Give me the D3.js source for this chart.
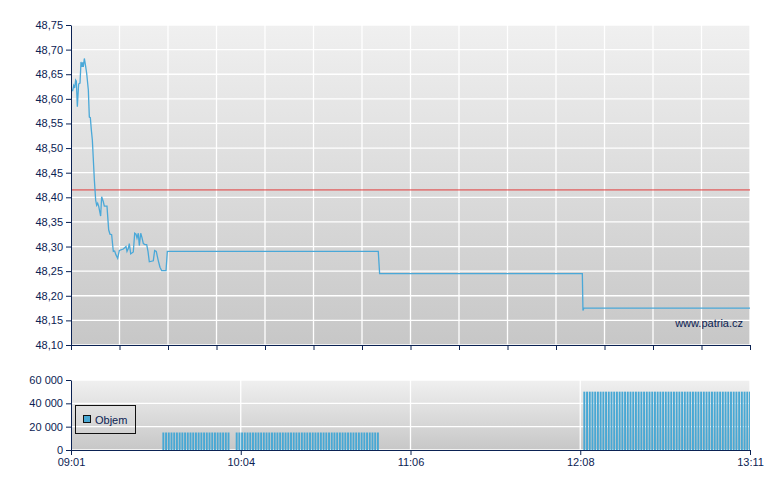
<!DOCTYPE html>
<html><head><meta charset="utf-8">
<script src="https://cdn.jsdelivr.net/npm/d3@7"></script>
<style>
body{margin:0;background:#fff;}
svg{display:block;font-family:"Liberation Sans",Arial,sans-serif;}
.axis text{font-size:11px;fill:#0b2253;}
.axis path,.axis line{stroke:#0b2253;}
</style></head>
<body><svg id="c" width="780" height="490"></svg>
<script>
// ---- data ----
const priceTimes = ["09:01:00","09:01:37","09:02:00","09:02:21","09:02:43","09:02:58","09:03:20","09:03:49","09:04:19","09:04:41","09:05:03","09:05:18","09:05:32","09:05:55","09:06:17","09:06:46","09:07:23","09:07:45","09:08:07","09:08:29","09:08:52",
"09:09:36","09:10:05","09:10:27","09:10:49","09:11:11","09:11:55","09:12:17","09:12:54","09:13:16","09:14:15","09:14:52","09:15:21","09:15:58","09:16:35","09:17:04","09:17:34","09:18:11","09:18:48","09:20:16","09:21:15","09:21:37","09:22:06","09:22:28","09:22:59","09:23:56","09:24:27","09:24:56","09:25:18","09:25:47","09:26:09","09:26:40","09:27:08","09:27:38","09:28:15","09:28:52","09:29:21","09:29:50","09:31:18","09:31:48","09:32:24","09:33:09","09:33:46","09:34:23","09:35:59","09:36:28",
"10:54:08","10:54:38","12:09:16","12:09:30","12:09:53","13:11:00"];
const priceValues = [48.617,48.617,48.627,48.622,48.638,48.636,48.584,48.630,48.632,48.675,48.665,48.674,48.665,48.682,48.670,48.652,48.618,48.563,48.562,48.537,48.516,
48.435,48.394,48.384,48.388,48.382,48.362,48.401,48.391,48.382,48.382,48.334,48.325,48.324,48.290,48.291,48.283,48.276,48.292,48.295,48.300,48.290,48.296,48.306,48.285,48.289,48.327,48.325,48.317,48.327,48.302,48.327,48.318,48.306,48.304,48.304,48.290,48.269,48.271,48.292,48.290,48.271,48.258,48.251,48.251,48.290,
48.290,48.245,48.245,48.170,48.175,48.175];
const referencePrice = 48.415;

const volTimes = ["09:35","09:36","09:37","09:38","09:39","09:40","09:41","09:42","09:43","09:44","09:45","09:46","09:47","09:48","09:49","09:50","09:51","09:52","09:53","09:54","09:55","09:56","09:57","09:58","09:59",
"10:02","10:03","10:04","10:05","10:06","10:07","10:08","10:09","10:10","10:11","10:12","10:13","10:14","10:15","10:16","10:17","10:18","10:19","10:20","10:21","10:22","10:23","10:24","10:25","10:26","10:27","10:28","10:29","10:30","10:31","10:32","10:33","10:34","10:35","10:36","10:37","10:38","10:39","10:40","10:41","10:42","10:43","10:44","10:45","10:46","10:47","10:48","10:49","10:50","10:51","10:52","10:53","10:54",
"12:10","12:11","12:12","12:13","12:14","12:15","12:16","12:17","12:18","12:19","12:20","12:21","12:22","12:23","12:24","12:25","12:26","12:27","12:28","12:29","12:30","12:31","12:32","12:33","12:34","12:35","12:36","12:37","12:38","12:39","12:40","12:41","12:42","12:43","12:44","12:45","12:46","12:47","12:48","12:49","12:50","12:51","12:52","12:53","12:54","12:55","12:56","12:57","12:58","12:59","13:00","13:01","13:02","13:03","13:04","13:05","13:06","13:07","13:08","13:09","13:10","13:11"];
const volValues = [15000,15000,15000,15000,15000,15000,15000,15000,15000,15000,15000,15000,15000,15000,15000,15000,15000,15000,15000,15000,15000,15000,15000,15000,15000,
15000,15000,15000,15000,15000,15000,15000,15000,15000,15000,15000,15000,15000,15000,15000,15000,15000,15000,15000,15000,15000,15000,15000,15000,15000,15000,15000,15000,15000,15000,15000,15000,15000,15000,15000,15000,15000,15000,15000,15000,15000,15000,15000,15000,15000,15000,15000,15000,15000,15000,15000,15000,15000,
50000,50000,50000,50000,50000,50000,50000,50000,50000,50000,50000,50000,50000,50000,50000,50000,50000,50000,50000,50000,50000,50000,50000,50000,50000,50000,50000,50000,50000,50000,50000,50000,50000,50000,50000,50000,50000,50000,50000,50000,50000,50000,50000,50000,50000,50000,50000,50000,50000,50000,50000,50000,50000,50000,50000,50000,50000,50000,50000,50000,50000,50000];

const priceTicks = [48.10,48.15,48.20,48.25,48.30,48.35,48.40,48.45,48.50,48.55,48.60,48.65,48.70,48.75];
const volTicks = [0,20000,40000,60000];
const timeLabels = ["09:01","10:04","11:06","12:08","13:11"];
const sessionStart = "09:01", sessionEnd = "13:11";
const legendLabel = "Objem";
const watermark = "www.patria.cz";

// ---- setup ----
const svg = d3.select("#c");
const L = 71, R = 750;
const main = {top:25, bottom:345};
const vol = {top:380, bottom:450};
const loc = d3.formatLocale({decimal:",", thousands:"\u00a0", grouping:[3], currency:["",""]});
const fPrice = loc.format(".2f"), fVol = loc.format(",d");
const pT = d3.timeParse("%H:%M:%S"), pM = d3.timeParse("%H:%M");

const x = d3.scaleTime().domain([pM(sessionStart), pM(sessionEnd)]).range([L, R]);
const yP = d3.scaleLinear().domain([48.10, 48.75]).range([main.bottom, main.top]);
const yV = d3.scaleLinear().domain([0, 60000]).range([vol.bottom, vol.top]);
const xLab = d3.scalePoint().domain(timeLabels).range([L, R]);

const defs = svg.append("defs");
const g = defs.append("linearGradient").attr("id","bg").attr("x1",0).attr("y1",0).attr("x2",0).attr("y2",1);
g.append("stop").attr("offset","0%").attr("stop-color","#f0f0f0");
g.append("stop").attr("offset","100%").attr("stop-color","#c7c7c7");
defs.append("clipPath").attr("id","clipV").append("rect").attr("x",L).attr("y",vol.top).attr("width",R-L).attr("height",vol.bottom-vol.top);

// ---- main panel ----
svg.append("rect").attr("x",L).attr("y",main.top).attr("width",R-L).attr("height",main.bottom-main.top).attr("fill","url(#bg)");
const [d0, d1] = x.domain();
const vTicks = d3.range(15).map(i => new Date(+d0 + i*(d1-d0)/14));
svg.append("g").selectAll("line").data(vTicks).join("line")
  .attr("x1",d=>x(d)).attr("x2",d=>x(d)).attr("y1",main.top).attr("y2",main.bottom)
  .attr("stroke","#fff").attr("stroke-width",1.3);
svg.append("g").selectAll("line").data(priceTicks).join("line")
  .attr("x1",L).attr("x2",R).attr("y1",d=>yP(d)).attr("y2",d=>yP(d))
  .attr("stroke","#fff").attr("stroke-width",1.3);

svg.append("line").attr("x1",L).attr("x2",R).attr("y1",yP(referencePrice)).attr("y2",yP(referencePrice))
  .attr("stroke","#e23a3a").attr("stroke-width",1);

const pts = priceTimes.map((t,i)=>[pT(t), priceValues[i]]);
svg.append("path").datum(pts)
  .attr("d", d3.line().x(d=>x(d[0])).y(d=>yP(d[1])))
  .attr("fill","none").attr("stroke","#4aa8d8").attr("stroke-width",1.3);

svg.append("text").attr("x",743).attr("y",327).attr("text-anchor","end")
  .attr("font-size",11).attr("fill","#0b2253").text(watermark);

svg.append("g").attr("class","axis").attr("transform",`translate(${L},0)`)
  .call(d3.axisLeft(yP).tickValues(priceTicks).tickFormat(fPrice).tickSize(5).tickPadding(3).tickSizeOuter(0));
svg.append("g").attr("class","axis").attr("transform",`translate(0,${main.bottom})`)
  .call(d3.axisBottom(x).tickValues(vTicks).tickFormat("").tickSize(5).tickSizeOuter(0));

// ---- volume panel ----
svg.append("rect").attr("x",L).attr("y",vol.top).attr("width",R-L).attr("height",vol.bottom-vol.top).attr("fill","url(#bg)");
svg.append("g").selectAll("line").data(timeLabels).join("line")
  .attr("x1",d=>xLab(d)).attr("x2",d=>xLab(d)).attr("y1",vol.top).attr("y2",vol.bottom)
  .attr("stroke","#fff").attr("stroke-width",1.3);
svg.append("g").selectAll("line").data(volTicks).join("line")
  .attr("x1",L).attr("x2",R).attr("y1",d=>yV(d)).attr("y2",d=>yV(d))
  .attr("stroke","#fff").attr("stroke-width",1.3);

const minW = x(pM("10:01")) - x(pM("10:00"));
const bw = minW - 0.8;
svg.append("g").attr("clip-path","url(#clipV)").selectAll("rect").data(volTimes).join("rect")
  .attr("x",(d)=>x(pM(d)) - bw/2).attr("width",bw)
  .attr("y",(d,i)=>yV(volValues[i])).attr("height",(d,i)=>yV(0)-yV(volValues[i]))
  .attr("fill","#48a8d4");

svg.append("g").attr("class","axis").attr("transform",`translate(${L},0)`)
  .call(d3.axisLeft(yV).tickValues(volTicks).tickFormat(fVol).tickSize(5).tickPadding(3).tickSizeOuter(0));
svg.append("g").attr("class","axis").attr("transform",`translate(0,${vol.bottom})`)
  .call(d3.axisBottom(xLab).tickSize(5).tickPadding(3).tickSizeOuter(0));

// legend
const lg = svg.append("g");
lg.append("rect").attr("x",75.5).attr("y",405.5).attr("width",60).attr("height",28)
  .attr("fill","none").attr("stroke","#111").attr("stroke-width",1);
lg.append("rect").attr("x",83.5).attr("y",415.5).attr("width",7).attr("height",7)
  .attr("fill","#48a8d4").attr("stroke","#111").attr("stroke-width",1);
lg.append("text").attr("x",95).attr("y",423.5).attr("font-size",11).attr("fill","#0b2253").text(legendLabel);
</script></body></html>
